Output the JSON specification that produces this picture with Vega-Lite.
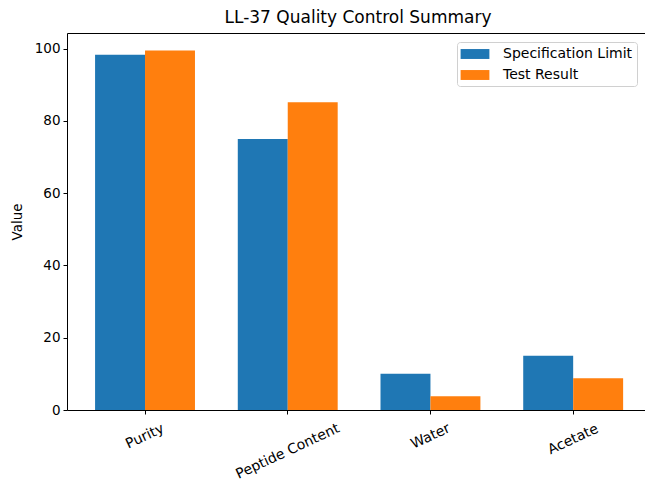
{
  "$schema": "https://vega.github.io/schema/vega-lite/v6.json",
  "autosize": "none",
  "padding": {"left": 67, "top": 33, "right": 0, "bottom": 73},
  "width": 578,
  "height": 377,
  "background": "white",
  "title": {"text": "LL-37 Quality Control Summary", "fontSize": 17, "font": "DejaVu Sans", "fontWeight": "normal", "color": "#000", "anchor": "middle", "offset": 6, "dx": 2},
  "data": {"values": [
    {"test": "Purity", "series": "Specification Limit", "value": 98.3},
    {"test": "Purity", "series": "Test Result", "value": 99.5},
    {"test": "Peptide Content", "series": "Specification Limit", "value": 75},
    {"test": "Peptide Content", "series": "Test Result", "value": 85.2},
    {"test": "Water", "series": "Specification Limit", "value": 10},
    {"test": "Water", "series": "Test Result", "value": 3.8},
    {"test": "Acetate", "series": "Specification Limit", "value": 15},
    {"test": "Acetate", "series": "Test Result", "value": 8.8}
  ]},
  "layer": [
    {
      "mark": {"type": "bar"},
      "encoding": {
        "x": {"field": "test", "type": "nominal", "sort": null,
          "scale": {"paddingInner": 0.3, "paddingOuter": 0.175, "align": 0.562},
          "axis": {"title": null, "labelAngle": -25, "labelAlign": "center", "labelBaseline": "middle", "labelFontSize": 14,
            "labelPadding": {"expr": "datum.value == 'Peptide Content' ? 37 : datum.value == 'Acetate' ? 25 : 22"}}},
        "xOffset": {"field": "series", "type": "nominal", "sort": null, "scale": {"paddingInner": 0, "paddingOuter": 0}},
        "y": {"field": "value", "type": "quantitative", "scale": {"domain": [0, 104.35], "nice": false, "zero": true},
          "axis": {"title": "Value", "values": [0, 20, 40, 60, 80, 100], "grid": false, "titlePadding": 10}},
        "color": {"field": "series", "type": "nominal", "sort": null,
          "scale": {"domain": ["Specification Limit", "Test Result"], "range": ["#1f77b4", "#ff7f0e"]},
          "legend": {"title": null, "orient": "none", "legendX": 390, "legendY": 9,
            "symbolType": "M-1.8,-0.62H1.8V0.62H-1.8Z", "symbolSize": 256, "symbolStrokeWidth": 0, "symbolOffset": 6,
            "fillColor": "white", "strokeColor": "#d0d0d0", "cornerRadius": 3, "padding": 4,
            "rowPadding": 6, "labelOffset": 20, "labelFontSize": 14, "labelColor": "#000", "labelFont": "DejaVu Sans"}}
      }
    },
    {
      "mark": {"type": "bar", "opacity": 0},
      "encoding": {
        "x": {"field": "test", "type": "nominal", "sort": null,
          "axis": {"orient": "top", "labels": false, "ticks": false, "title": null}},
        "xOffset": {"field": "series", "type": "nominal", "sort": null},
        "y": {"field": "value", "type": "quantitative"}
      }
    }
  ],
  "resolve": {"axis": {"x": "independent"}},
  "config": {
    "view": {"stroke": null},
    "font": "DejaVu Sans",
    "axis": {"domainColor": "#000", "domainWidth": 1, "tickColor": "#000", "tickSize": 4, "labelFontSize": 13.5, "labelColor": "#000", "labelFont": "DejaVu Sans", "titleFont": "DejaVu Sans", "titleFontSize": 13.5, "titleFontWeight": "normal", "titleColor": "#000", "labelPadding": 3}
  }
}
